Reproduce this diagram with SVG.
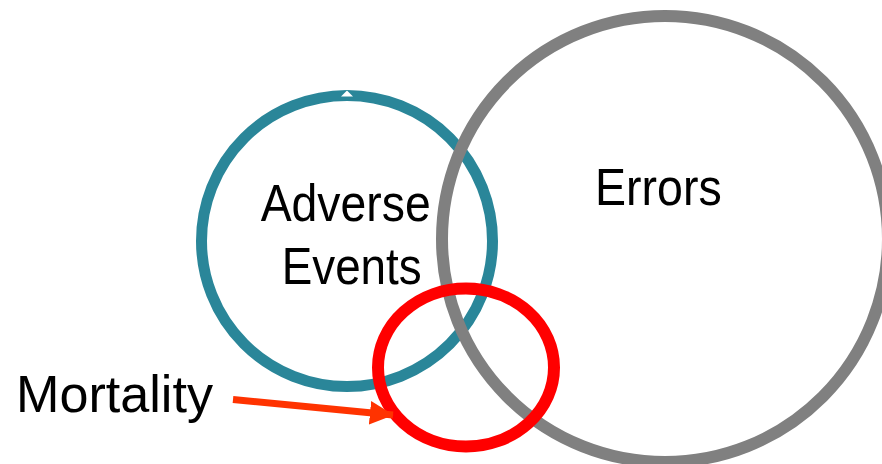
<svg xmlns="http://www.w3.org/2000/svg" width="882" height="464" viewBox="0 0 882 464">
  <style>
    .ring { fill: none; }
    .label { font-family: "Liberation Sans", Arial, sans-serif; font-size: 52px; fill: #000; }
  </style>
  <defs>
    <marker id="arrowHead" markerWidth="4" markerHeight="4" refX="3.3" refY="2" orient="auto" markerUnits="strokeWidth" viewBox="0 0 4 4">
      <path d="M0,0.3 L3.4,2 L0,3.7 Z" fill="#FF3300"/>
    </marker>
  </defs>
  <rect width="882" height="464" fill="#fff"/>

  <g id="adverse-events">
    <circle class="ring" cx="347" cy="241" r="145.5" stroke="#2A8699" stroke-width="11"/>
    <path d="M347,90.5 L353,96.5 L341,96.5 Z" fill="#fff"/>
    <text class="label" x="260.7" y="221" textLength="170" lengthAdjust="spacingAndGlyphs">Adverse</text>
    <text class="label" x="281.7" y="284" textLength="140" lengthAdjust="spacingAndGlyphs">Events</text>
  </g>

  <g id="errors">
    <circle class="ring" cx="665" cy="239" r="223" stroke="#808080" stroke-width="12"/>
    <text class="label" x="595" y="205" textLength="126.7" lengthAdjust="spacingAndGlyphs">Errors</text>
  </g>

  <g id="mortality">
    <ellipse class="ring" cx="466" cy="367.5" rx="88" ry="79" stroke="#FF0000" stroke-width="12"/>
    <text class="label" x="16" y="412" textLength="197" lengthAdjust="spacingAndGlyphs">Mortality</text>
  </g>

  <g id="connectors">
    <line x1="233" y1="399.5" x2="393" y2="415" stroke="#FF3300" stroke-width="7" marker-end="url(#arrowHead)"/>
  </g>
</svg>
